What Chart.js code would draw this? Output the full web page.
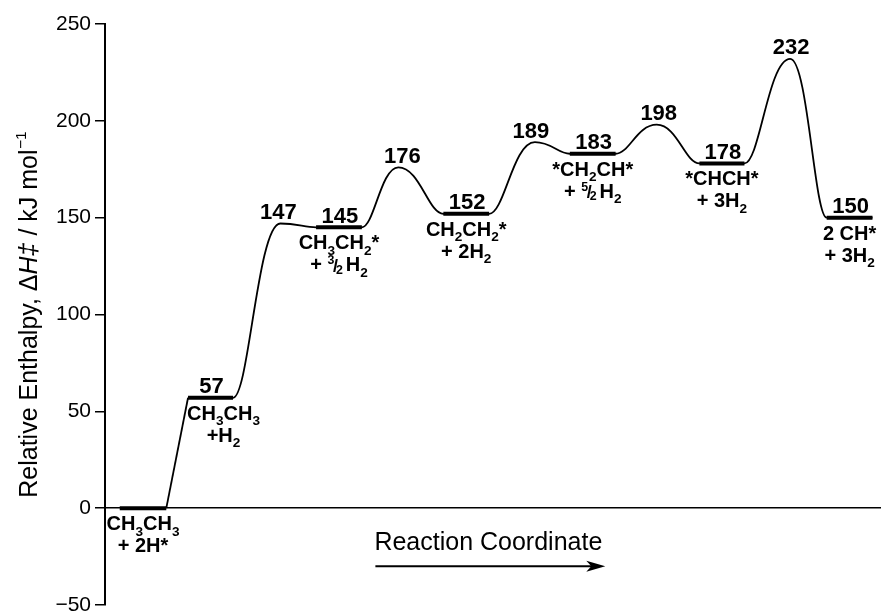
<!DOCTYPE html>
<html>
<head>
<meta charset="utf-8">
<script src="https://cdn.jsdelivr.net/npm/chart.js@4.4.1/dist/chart.umd.min.js"></script>
<style>
  html, body { margin: 0; padding: 0; background: #fff; }
  #wrap { width: 881px; height: 616px; }
</style>
</head>
<body>
<div id="wrap"><canvas id="profile" width="881" height="616"></canvas></div>
<script>
// enthalpy profile: flat levels for intermediates, smooth humps for transition states

const FONT = '"Liberation Sans", Arial, Helvetica, sans-serif';

// intermediates (kJ/mol) and where their level bars sit on the reaction coordinate
const levelValues = [0, 57, 145, 152, 183, 178, 150];
const levelStart  = [1.9, 10.7, 27.2, 43.6, 59.9, 76.6, 93.0];
const levelEnd    = [7.9, 16.5, 33.1, 49.5, 65.8, 82.4, 98.9];
// species under each bar: _x = subscript, [a/b] = small fraction
const levelNames  = [
    ['CH_3CH_3', '+ 2H*'],
    ['CH_3CH_3', '+H_2'],
    ['CH_3CH_2*', '+ [3/2]H_2'],
    ['CH_2CH_2*', '+ 2H_2'],
    ['*CH_2CH*', '+ [5/2]H_2'],
    ['*CHCH*', '+ 3H_2'],
    ['2 CH*', '+ 3H_2'],
];

// transition states between level 1..6
const tsValues = [147, 176, 189, 198, 232];
const tsCoord  = [22.6, 37.8, 55.4, 71.1, 88.3];

const yTicks      = [-50, 0, 50, 100, 150, 200, 250];
const yTickLabels = ['\u221250', '0', '50', '100', '150', '200', '250'];

// ---- build point lists from the arrays ----
const levelPoints = [];
levelValues.forEach((v, i) => {
    levelPoints.push({ x: levelStart[i], y: v }, { x: levelEnd[i], y: v });
    if (i < levelValues.length - 1) {
        levelPoints.push({ x: (levelEnd[i] + levelStart[i + 1]) / 2, y: null });
    }
});

// first step (adsorbed H leaving) is drawn as a plain straight line
const risePoints = [
    { x: levelEnd[0], y: levelValues[0] },
    { x: levelStart[1], y: levelValues[1] },
];

// everything after level 1 goes through monotone cubic -> flat tangents at bars and peaks
const pathPoints = [];
const peakIndex = [];
for (let i = 1; i < levelValues.length; i++) {
    pathPoints.push({ x: levelStart[i], y: levelValues[i] }, { x: levelEnd[i], y: levelValues[i] });
    if (i < levelValues.length - 1) {
        peakIndex.push(pathPoints.length);
        pathPoints.push({ x: tsCoord[i - 1], y: tsValues[i - 1] });
    }
}

// ---- rich text helper (subscripts, superscripts, small fractions) ----
// kern shifts a run left before drawing, pad adds room after it
const RUN_STYLE = {
    n:     { scale: 1,    dy: 0,     kern: 0,     pad: 0 },
    sub:   { scale: 0.68, dy: 0.27,  kern: 0,     pad: 0 },
    sup:   { scale: 0.62, dy: -0.45, kern: 0.02,  pad: 0 },
    num:   { scale: 0.62, dy: -0.36, kern: 0,     pad: 0 },
    slash: { scale: 0.9,  dy: 0.03,  kern: -0.07, pad: 0 },
    den:   { scale: 0.62, dy: 0.12,  kern: -0.09, pad: 0.14 },
};

function parseRich(str) {
    const runs = [];
    let buf = '';
    const flush = () => { if (buf) { runs.push({ t: buf, k: 'n' }); buf = ''; } };
    for (let i = 0; i < str.length; i++) {
        const c = str[i];
        if (c === '_') {
            flush();
            runs.push({ t: str[++i], k: 'sub' });
        } else if (c === '[') {
            flush();
            const end = str.indexOf(']', i);
            const [a, b] = str.slice(i + 1, end).split('/');
            runs.push({ t: a, k: 'num' }, { t: '/', k: 'slash' }, { t: b, k: 'den' });
            i = end;
        } else {
            buf += c;
        }
    }
    flush();
    return runs;
}

function drawRuns(ctx, runs, cx, base, size, weight) {
    const fontFor = r => (r.italic ? 'italic ' : '') + weight + ' ' + (size * RUN_STYLE[r.k].scale) + 'px ' + FONT;
    let total = 0;
    const widths = runs.map(r => {
        const st = RUN_STYLE[r.k];
        ctx.font = fontFor(r);
        const w = ctx.measureText(r.t).width + (st.kern + st.pad) * size;
        total += w;
        return w;
    });
    let xx = cx - total / 2;
    ctx.textAlign = 'left';
    ctx.textBaseline = 'alphabetic';
    runs.forEach((r, i) => {
        const st = RUN_STYLE[r.k];
        ctx.font = fontFor(r);
        ctx.fillText(r.t, xx + st.kern * size, base + st.dy * size);
        xx += widths[i];
    });
    return total;
}

// ---- labels, axis title and the reaction-coordinate arrow ----
const profileLabels = {
    id: 'profileLabels',
    // stretch the bezier handles at each peak a bit so the humps get rounder tops
    beforeDatasetDraw(chart, args, opts) {
        const meta = args.meta;
        if (meta.label !== 'path' && chart.data.datasets[args.index].label !== 'path') return;
        const line = meta.dataset;
        line.updateControlPoints(chart.chartArea, 'x');
        const pts = meta.data;
        peakIndex.forEach(k => {
            const p = pts[k];
            p.cp1x = p.x - (p.x - pts[k - 1].x) * opts.peakHandle;
            p.cp2x = p.x + (pts[k + 1].x - p.x) * opts.peakHandle;
            p.cp1y = p.y;
            p.cp2y = p.y;
        });
    },
    afterDatasetsDraw(chart, args, opts) {
        const { ctx, scales: { x, y } } = chart;
        ctx.save();
        ctx.fillStyle = '#000';

        // numbers above bars (ground state has none) and above peaks
        ctx.font = 'bold 22px ' + FONT;
        ctx.textAlign = 'center';
        ctx.textBaseline = 'alphabetic';
        levelValues.forEach((v, i) => {
            if (i === 0) return;
            const cx = x.getPixelForValue((levelStart[i] + levelEnd[i]) / 2);
            ctx.fillText(String(v), cx + 1, y.getPixelForValue(v) - 4.5);
        });
        tsValues.forEach((v, i) => {
            ctx.fillText(String(v), x.getPixelForValue(tsCoord[i]) + opts.tsShift[i], y.getPixelForValue(v) - 4.5);
        });

        // species names under the bars
        levelNames.forEach((lines, i) => {
            const cx = x.getPixelForValue((levelStart[i] + levelEnd[i]) / 2) + opts.nameShift[i];
            const by = y.getPixelForValue(levelValues[i]);
            lines.forEach((line, j) => {
                drawRuns(ctx, parseRich(line), cx, by + 22 + j * 22, 20, 'bold');
            });
        });
        ctx.restore();
    },
    afterDraw(chart) {
        const { ctx, chartArea, scales: { x, y } } = chart;
        ctx.save();
        ctx.fillStyle = '#000';
        ctx.strokeStyle = '#000';

        // rotated y title with italic H and superscript -1
        ctx.save();
        ctx.translate(37, (chartArea.top + chartArea.bottom) / 2);
        ctx.rotate(-Math.PI / 2);
        drawRuns(ctx, [
            { t: 'Relative Enthalpy, \u0394', k: 'n' },
            { t: 'H\u2021', k: 'n', italic: true },
            { t: ' / kJ mol', k: 'n' },
            { t: '\u22121', k: 'sup' },
        ], 0, 0, 25, 'normal');
        ctx.restore();

        // "Reaction Coordinate" with arrow underneath
        const cx = x.getPixelForValue(49.4);
        const ty = y.getPixelForValue(-21.5);
        const w = drawRuns(ctx, [{ t: 'Reaction Coordinate', k: 'n' }], cx, ty, 25, 'normal');
        const ay = y.getPixelForValue(-30);
        const x0 = cx - w / 2 + 1;
        const x1 = cx + w / 2 + 3;
        ctx.lineWidth = 2;
        ctx.beginPath();
        ctx.moveTo(x0, ay);
        ctx.lineTo(x1 - 10, ay);
        ctx.stroke();
        ctx.beginPath();
        ctx.moveTo(x1, ay);
        ctx.lineTo(x1 - 19, ay - 5.5);
        ctx.lineTo(x1 - 14, ay);
        ctx.lineTo(x1 - 19, ay + 5.5);
        ctx.closePath();
        ctx.fill();
        ctx.restore();
    },
};

new Chart(document.getElementById('profile'), {
    type: 'line',
    data: {
        datasets: [
            {
                label: 'levels',
                data: levelPoints,
                borderColor: '#000',
                borderWidth: 4,
                borderCapStyle: 'butt',
                spanGaps: false,
                pointRadius: 0,
            },
            {
                label: 'rise',
                data: risePoints,
                borderColor: '#000',
                borderWidth: 1.8,
                tension: 0,
                pointRadius: 0,
            },
            {
                label: 'path',
                data: pathPoints,
                borderColor: '#000',
                borderWidth: 1.8,
                cubicInterpolationMode: 'monotone',
                pointRadius: 0,
            },
        ],
    },
    options: {
        responsive: false,
        devicePixelRatio: 1,
        animation: false,
        layout: { padding: { top: 24, right: 0, bottom: 11, left: 0 } },
        plugins: {
            legend: { display: false },
            tooltip: { enabled: false },
            profileLabels: {
                nameShift: [0, 13, 0, 0, 0, 0, 0],
                tsShift: [-2, 4, -4, 2, 1],
                peakHandle: 0.48,
            },
        },
        scales: {
            x: {
                type: 'linear',
                min: 0,
                max: 100,
                position: { y: 0 },
                grid: { display: false },
                ticks: { display: false },
                border: { color: '#000', width: 1.5 },
            },
            y: {
                type: 'linear',
                min: -50,
                max: 250,
                afterBuildTicks: s => { s.ticks = yTicks.map(v => ({ value: v })); },
                afterFit: s => { s.width = 105; s.paddingTop = 0; s.paddingBottom = 0; },
                ticks: {
                    color: '#000',
                    padding: 4,
                    font: { family: FONT, size: 21 },
                    callback: (v, i) => yTickLabels[i],
                },
                grid: { drawOnChartArea: false, tickLength: 10, color: '#000', lineWidth: 1.5 },
                border: { color: '#000', width: 2 },
            },
        },
    },
    plugins: [profileLabels],
});
</script>
</body>
</html>
